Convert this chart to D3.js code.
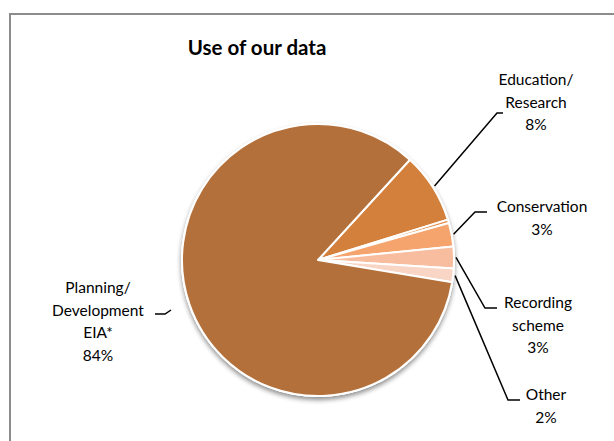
<!DOCTYPE html>
<html><head><meta charset="utf-8">
<script src="https://cdn.jsdelivr.net/npm/d3@7"></script>
<style>html,body{margin:0;padding:0;background:#fff;}svg{display:block;}</style>
</head><body>
<div id="chart"></div>
<script>
// ---- data ----
const categories = ["Education/\nResearch", "", "Conservation", "Recording\nscheme", "Other", "Planning/\nDevelopment\nEIA*"];
const values = [8.4, 0.4, 2.8, 2.6, 1.6, 84.2];
const percentLabels = ["8%", "", "3%", "3%", "2%", "84%"];
const colors = ["#d3803c", "#e58c48", "#f4a46c", "#f7bd9e", "#f9d5c5", "#b4703a"];
const title = "Use of our data";

const W = 614, H = 441;
const svg = d3.select("#chart").append("svg").attr("width", W).attr("height", H);
const font = "Lato, 'Open Sans', sans-serif";

// chart frame
svg.append("rect").attr("x", 10).attr("y", 14).attr("width", 620).attr("height", 440)
  .attr("fill", "#fff").attr("stroke", "#8c8c8c").attr("stroke-width", 2);

svg.append("text").attr("x", 257).attr("y", 55).attr("text-anchor", "middle")
  .attr("font-family", font).attr("font-weight", "bold").attr("font-size", 20.5)
  .attr("fill", "#000").text(title);

const defs = svg.append("defs");
const f = defs.append("filter").attr("id", "sh").attr("x", "-20%").attr("y", "-20%").attr("width", "140%").attr("height", "140%");
f.append("feGaussianBlur").attr("in", "SourceAlpha").attr("stdDeviation", 2.5).attr("result", "b");
f.append("feOffset").attr("in", "b").attr("dx", 0).attr("dy", 3).attr("result", "o");
f.append("feComponentTransfer").attr("in", "o").attr("result", "oc")
  .append("feFuncA").attr("type", "linear").attr("slope", 0.45);
const m = f.append("feMerge");
m.append("feMergeNode").attr("in", "oc");
m.append("feMergeNode").attr("in", "SourceGraphic");

const cx = 318, cy = 260, r = 136;
const startDeg = 42.5;
const pie = d3.pie().sort(null).value(d => d)
  .startAngle(startDeg * Math.PI / 180).endAngle((startDeg + 360) * Math.PI / 180);
const arcs = pie(values);
const arc = d3.arc().innerRadius(0).outerRadius(r);

const g = svg.append("g").attr("transform", `translate(${cx},${cy})`);
g.append("circle").attr("r", r + 1).attr("fill", "#fff").attr("filter", "url(#sh)");
g.selectAll("path.slice").data(arcs).enter().append("path").attr("class", "slice")
  .attr("d", arc).attr("fill", (d, i) => colors[i])
  .attr("stroke", "#fff").attr("stroke-width", 2).attr("stroke-linejoin", "round");

// labels (layout positions)
const labelLayout = [
  {x: 536, y: 80, leader: [[0.5, 0], [497, 113], [503, 113]]},
  null,
  {x: 542, y: 207, leader: [[0.5, 0], [475, 212], [487, 212]]},
  {x: 538, y: 303, leader: [[0.5, 0], [485, 308], [497, 308]]},
  {x: 546, y: 395, leader: [[0.5, 0], [508, 400], [520, 400]]},
  {x: 98, y: 288, leader: null}
];
const lh = 22.5;
arcs.forEach((a, i) => {
  const L = labelLayout[i];
  if (!L) return;
  const lines = categories[i].split("\n").concat([percentLabels[i]]);
  const t = svg.append("text").attr("text-anchor", "middle").attr("font-family", font)
    .attr("font-size", 15.5).attr("fill", "#000");
  lines.forEach((s, k) => t.append("tspan").attr("x", L.x).attr("y", L.y + k * lh).attr("dy", "0.35em").text(s));
  if (L.leader) {
    const mid = (a.startAngle + a.endAngle) / 2;
    const p0 = [cx + Math.sin(mid) * (r + 2), cy - Math.cos(mid) * (r + 2)];
    const pts = [p0].concat(L.leader.slice(1));
    svg.append("path").attr("d", d3.line()(pts)).attr("fill", "none")
      .attr("stroke", "#000").attr("stroke-width", 1.5);
  }
});
// Planning leader (short elbow)
svg.append("path").attr("d", d3.line()([[155, 314], [165, 314], [171, 310]]))
  .attr("fill", "none").attr("stroke", "#000").attr("stroke-width", 1.5);
</script>
</body></html>
